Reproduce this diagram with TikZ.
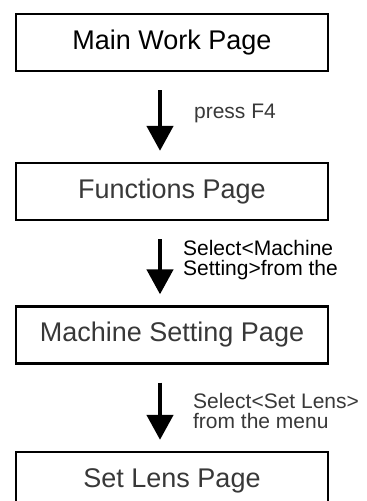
\documentclass[tikz,border=0pt]{standalone}
\usepackage{fontspec}
\setmainfont{Liberation Sans}
\usetikzlibrary{arrows.meta}
\definecolor{txtgray}{HTML}{383838}

\begin{document}
\begin{tikzpicture}[x=1pt,y={(0pt,-1pt)},line width=2.3pt,
  pagebox/.style={draw,minimum width=312pt,minimum height=57pt,inner sep=0pt,font=\fontsize{27}{30}\selectfont},
  steparrow/.style={-{Triangle[width=26pt,length=25pt]},line width=4.5pt,shorten <=18pt,shorten >=11pt},
  steptext/.style={anchor=west,align=left,inner sep=0pt,font=\fontsize{21}{19.5}\selectfont}]
\useasboundingbox (0,0) rectangle (367,501);
\node[pagebox] (main) at (172,42.5) {Main Work Page};
\node[pagebox,text=txtgray] (func) at (172,191.5) {Functions Page};
\node[pagebox,text=txtgray] (mach) at (172,335) {Machine Setting Page};
\node[pagebox,text=txtgray] (lens) at (172,480.5) {Set Lens Page};
\draw[steparrow] ([xshift=-12pt]main.south) -- ([xshift=-12pt]func.north);
\node[steptext,text=txtgray] (press) at (193,113) {press F4};
\draw[steparrow] ([xshift=-12pt]func.south) -- ([xshift=-12pt]mach.north);
\node[steptext] (selmach) at (182,260) {Select<Machine\\Setting>from the};
\draw[steparrow] ([xshift=-12pt]mach.south) -- ([xshift=-12pt]lens.north);
\node[steptext,text=txtgray] (sellens) at (192,411) {Select<Set Lens>\\from the menu};
\end{tikzpicture}
\end{document}
